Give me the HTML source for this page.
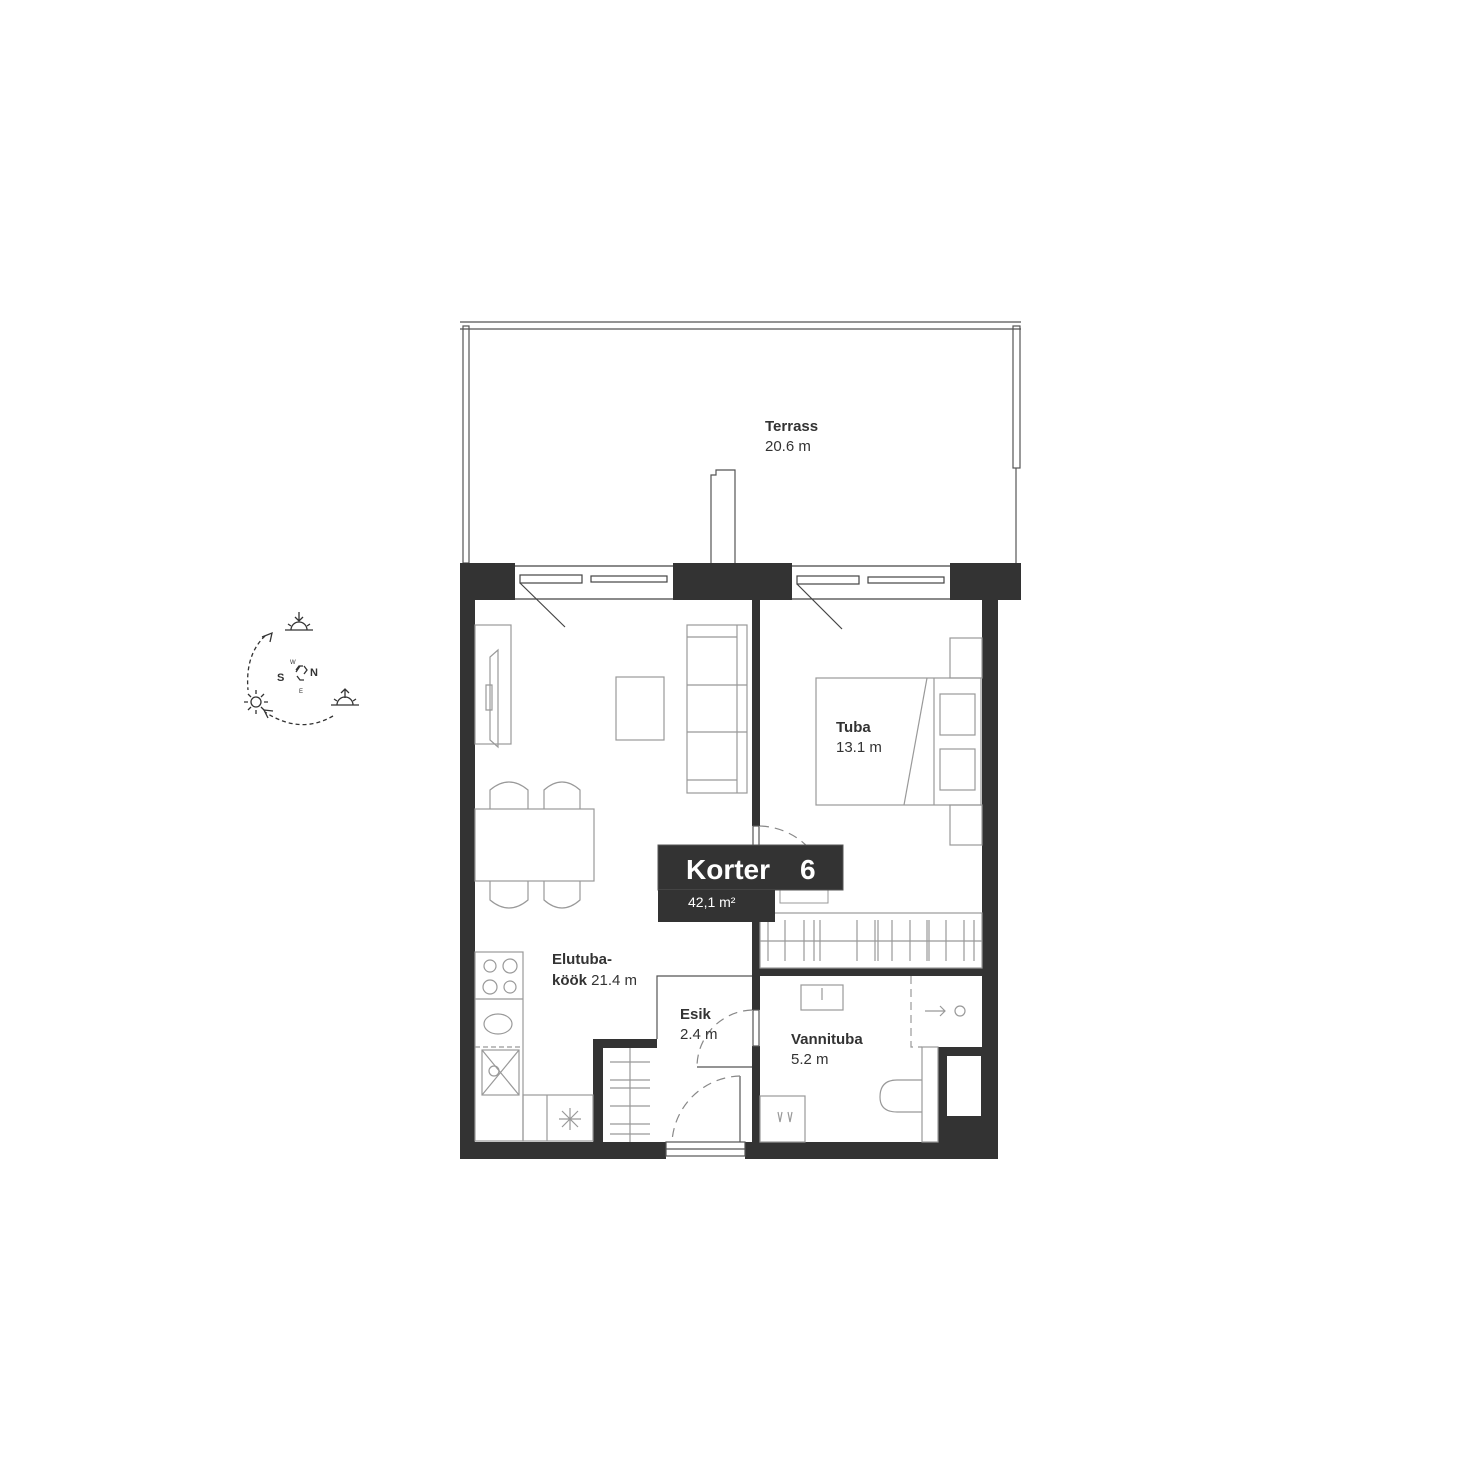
<!DOCTYPE html>
<html><head><meta charset="utf-8"><style>
html,body{margin:0;padding:0;background:#fff}
svg{display:block}
text{font-family:"Liberation Sans",Arial,sans-serif;fill:#333}
</style></head><body>
<svg width="1480" height="1480" viewBox="0 0 1480 1480" xmlns="http://www.w3.org/2000/svg">
<rect width="1480" height="1480" fill="#fff"/>
<!-- terrace -->
<g fill="none" stroke="#555" stroke-width="1.2">
<line x1="460" y1="322" x2="1021" y2="322"/>
<line x1="460" y1="329" x2="1021" y2="329"/>
<rect x="463" y="326" width="6" height="237"/>
<rect x="1013" y="326" width="7" height="142"/>
<line x1="1016" y1="468" x2="1016" y2="563"/>
<path d="M711 563 V475 H716 V470 H735 V563"/>
</g>
<text x="765" y="431" font-size="15" font-weight="bold">Terrass</text>
<text x="765" y="451" font-size="15">20.6 m</text>
<!-- walls -->
<g fill="#333">
<rect x="460" y="563" width="55" height="37"/>
<rect x="673" y="563" width="119" height="37"/>
<rect x="950" y="563" width="71" height="37"/>
<rect x="460" y="563" width="15" height="595"/>
<rect x="982" y="600" width="16" height="558"/>
<rect x="460" y="1142" width="206" height="17"/>
<rect x="745" y="1142" width="253" height="17"/>
<rect x="752" y="600" width="8" height="226"/>
<rect x="752" y="850" width="8" height="160"/>
<rect x="752" y="1046" width="8" height="96"/>
<rect x="760" y="968" width="222" height="8"/>
<rect x="593" y="1039" width="64" height="9"/>
<rect x="593" y="1039" width="10" height="103"/>
<rect x="938" y="1047" width="60" height="111"/>
</g>
<rect x="947" y="1056" width="34" height="60" fill="#fff"/>
<!-- windows -->
<g fill="none" stroke="#444" stroke-width="1.2">
<line x1="515" y1="566" x2="673" y2="566"/><line x1="515" y1="599" x2="673" y2="599"/>
<rect x="520" y="575" width="62" height="8"/><rect x="591" y="576" width="76" height="6"/>
<line x1="520" y1="583" x2="565" y2="627"/>
<line x1="792" y1="566" x2="950" y2="566"/><line x1="792" y1="599" x2="950" y2="599"/>
<rect x="797" y="576" width="62" height="8"/><rect x="868" y="577" width="76" height="6"/>
<line x1="797" y1="584" x2="842" y2="629"/>
</g>
<!-- furniture -->
<g fill="none" stroke="#999" stroke-width="1.2">
<rect x="475" y="625" width="36" height="119"/>
<path d="M486 685 V710 H492 V685 Z M490 657 V740 L498 747 V650 Z"/>
<rect x="616" y="677" width="48" height="63"/>
<rect x="687" y="625" width="60" height="168"/>
<line x1="737" y1="625" x2="737" y2="793"/>
<line x1="687" y1="637" x2="737" y2="637"/><line x1="687" y1="685" x2="747" y2="685"/>
<line x1="687" y1="732" x2="747" y2="732"/><line x1="687" y1="780" x2="737" y2="780"/>
<rect x="475" y="809" width="119" height="72"/>
<path d="M490 809 V790 Q509 774 528 790 V809 M544 809 V790 Q562 774 580 790 V809"/>
<path d="M490 881 V900 Q509 916 528 900 V881 M544 881 V900 Q562 916 580 900 V881"/>
<rect x="816" y="678" width="165" height="127"/>
<line x1="934" y1="678" x2="934" y2="805"/>
<line x1="927" y1="678" x2="904" y2="805"/>
<rect x="940" y="694" width="35" height="41"/><rect x="940" y="749" width="35" height="41"/>
<rect x="950" y="638" width="32" height="40"/><rect x="950" y="805" width="32" height="40"/>
<rect x="760" y="913" width="222" height="55"/>
<line x1="760" y1="941" x2="982" y2="941"/>
<path d="M768 920V961 M785 920V961 M804 920V961 M814 920V961 M820 920V961 M857 920V961 M875 920V961 M878 920V961 M892 920V961 M910 920V961 M927 920V961 M929 920V961 M946 920V961 M964 920V961 M974 920V961"/>
<!-- kitchen -->
<rect x="475" y="952" width="48" height="189"/>
<line x1="475" y1="999" x2="523" y2="999"/>
<line x1="475" y1="1047" x2="523" y2="1047" stroke-dasharray="5 3"/>
<circle cx="490" cy="966" r="6"/><circle cx="510" cy="966" r="7"/><circle cx="490" cy="987" r="7"/><circle cx="510" cy="987" r="6"/>
<ellipse cx="498" cy="1024" rx="14" ry="10"/>
<rect x="482" y="1050" width="37" height="45"/>
<path d="M482 1050 L519 1095 M519 1050 L482 1095"/><circle cx="494" cy="1071" r="5"/>
<rect x="523" y="1095" width="70" height="46"/><line x1="547" y1="1095" x2="547" y2="1141"/>
<path d="M570 1108 V1130 M559 1119 H581 M562 1111 L578 1127 M578 1111 L562 1127"/>
<!-- closet -->
<line x1="630" y1="1048" x2="630" y2="1142"/>
<path d="M610 1062H650 M610 1080H650 M610 1088H650 M610 1106H650 M610 1124H650 M610 1134H650"/>
<!-- bath -->
<rect x="801" y="985" width="42" height="25"/>
<line x1="822" y1="988" x2="822" y2="1000"/>
<path d="M911 976 V1047 H922" stroke-dasharray="8 5"/>
<path d="M925 1011 H945 M940 1006 L945 1011 L940 1016"/><circle cx="960" cy="1011" r="5"/>
<rect x="922" y="1047" width="16" height="95"/>
<path d="M922 1080 H897 Q880 1080 880 1097 Q880 1112 897 1112 H922"/>
<rect x="760" y="1096" width="45" height="46"/>
<path d="M778 1112 l2 10 l2 -10 M788 1112 l2 10 l2 -10"/>
</g>
<!-- Esik -->
<g fill="none" stroke="#555" stroke-width="1.2">
<path d="M657 1039 V976 H752"/>
<line x1="697" y1="1067" x2="752" y2="1067"/>
<line x1="740" y1="1076" x2="740" y2="1142"/>
<rect x="666" y="1142" width="79" height="14"/><line x1="666" y1="1149" x2="745" y2="1149"/>
<rect x="753" y="1010" width="6" height="36" fill="#fff"/>
<rect x="753" y="826" width="6" height="24" fill="#fff"/>
</g>
<g fill="none" stroke="#888" stroke-width="1.2" stroke-dasharray="9 6">
<path d="M752 1010 A57 57 0 0 0 697 1067"/>
<path d="M740 1076 A70 70 0 0 0 672 1142"/>
<path d="M760 826 A70 70 0 0 1 826 880"/>
</g>
<rect x="780" y="886" width="48" height="17" fill="none" stroke="#999"/>
<!-- labels -->
<text x="836" y="732" font-size="15" font-weight="bold">Tuba</text>
<text x="836" y="752" font-size="15">13.1 m</text>
<text x="552" y="964" font-size="15" font-weight="bold">Elutuba-</text>
<text x="552" y="985" font-size="15"><tspan font-weight="bold">köök</tspan> 21.4 m</text>
<text x="680" y="1019" font-size="15" font-weight="bold">Esik</text>
<text x="680" y="1039" font-size="15">2.4 m</text>
<text x="791" y="1044" font-size="15" font-weight="bold">Vannituba</text>
<text x="791" y="1064" font-size="15">5.2 m</text>
<rect x="658" y="845" width="185" height="45" fill="#333" stroke="#555"/>
<rect x="658" y="890" width="117" height="32" fill="#333"/>
<text x="686" y="879" font-size="28" font-weight="bold" style="fill:#fff">Korter</text>
<text x="800" y="879" font-size="28" font-weight="bold" style="fill:#fff">6</text>
<text x="688" y="907" font-size="14" style="fill:#fff">42,1 m²</text>
<!-- compass -->
<g fill="none" stroke="#333" stroke-width="1.3">
<path d="M265 636 Q245 655 248 690" stroke-dasharray="4 3"/>
<path d="M262 637 L272 633 L270 642"/>
<path d="M333 716 Q300 735 265 712" stroke-dasharray="4 3"/>
<path d="M268 718 L264 710 L273 711"/>
<path d="M285 630 H313 M291 630 A8 8 0 0 1 307 630 M299 612 V620 M295 617 L299 621 L303 617 M288 624 l3 2 M310 624 l-3 2"/>
<path d="M331 705 H359 M337 705 A8 8 0 0 1 353 705 M345 698 V690 M341 693 L345 689 L349 693 M334 699 l3 2 M356 699 l-3 2"/>
<circle cx="256" cy="702" r="5"/>
<path d="M256 690V694 M256 710V714 M244 702H248 M264 702H268 M248 694l3 3 M264 694l-3 3 M248 710l3 -3 M264 710l-3 -3"/>
<path d="M296 670 L299 666 H303 M304 680 H300 L297 676 M304 666 L307 670 L304 674 M300 666 L296 672"/>
</g>
<text x="277" y="681" font-size="11" font-weight="bold">S</text>
<text x="310" y="676" font-size="11" font-weight="bold">N</text>
<text x="290" y="664" font-size="6">W</text>
<text x="299" y="693" font-size="6">E</text>
</svg>
</body></html>
